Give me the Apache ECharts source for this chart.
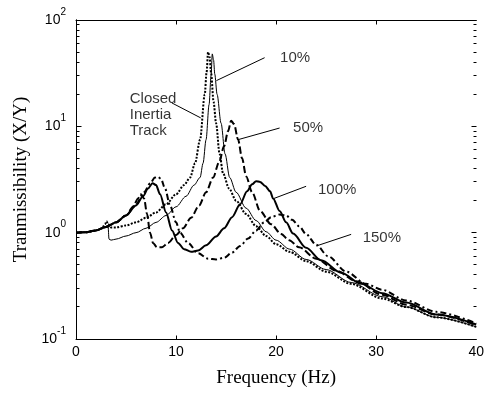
<!DOCTYPE html>
<html><head><meta charset="utf-8">
<script src="https://cdn.jsdelivr.net/npm/echarts@6/dist/echarts.min.js"></script>
<style>html,body{margin:0;padding:0;background:#fff;}#c{width:487px;height:393px;}</style>
</head><body><div id="c"></div>
<script>
// x tick labels and y decades
const xTicks = [0, 10, 20, 30, 40];
const xInnerTicks = [10, 20, 30];
const yDecades = [0.1, 1, 10, 100];
const yMinorTicks = [0.2,0.3,0.4,0.5,0.6,0.7,0.8,0.9,2,3,4,5,6,7,8,9,20,30,40,50,60,70,80,90];

// [frequency Hz, transmissibility]
const closedTrack = [[0,1.0],[1,1.01],[2,1.05],[2.6,1.1],[2.9,1.2],[3.05,1.28],[3.2,1.2],[3.5,1.12],[4,1.12],[5,1.17],[6,1.25],[7,1.38],[8,1.55],[9,1.85],[10,2.3],[10.8,2.8],[11.4,3.3],[11.9,4.5],[12.4,7.5],[12.87,20],[13.05,32],[13.2,50],[13.35,45],[13.5,32],[13.75,17],[14.0,10.7],[14.35,5.5],[14.7,3.6],[15.3,2.6],[16,2.0],[17,1.5],[18,1.15],[19,0.93],[20,0.78],[21.35,0.66],[23,0.54],[25,0.43],[27.5,0.33],[30.6,0.24],[33,0.2],[36,0.16],[40,0.13]];
const open10 = [[0,1.0],[1,1.01],[2,1.05],[2.8,1.12],[3.2,1.17],[3.3,0.87],[3.5,0.85],[4,0.87],[5,0.93],[6,1.0],[7,1.1],[8,1.25],[9,1.45],[10,1.75],[11,2.2],[11.8,2.8],[12.4,3.3],[12.7,4.5],[13.0,7.5],[13.3,16],[13.5,30],[13.62,48],[13.75,42],[13.87,31],[14.1,20],[14.5,10.7],[14.9,5.5],[15.36,3.3],[16,2.4],[17,1.7],[18,1.3],[19,1.02],[20,0.85],[21.35,0.7],[23,0.56],[25,0.45],[27.5,0.34],[30.6,0.25],[33,0.2],[36,0.16],[40,0.13]];
const open50 = [[0,1.0],[1,1.01],[2,1.05],[3,1.13],[4,1.25],[5,1.45],[5.7,1.75],[6.2,2.1],[6.5,2.3],[6.8,2.1],[7.1,1.5],[7.4,1.0],[7.7,0.8],[8.1,0.73],[8.6,0.73],[9.2,0.8],[10,0.95],[10.7,1.1],[11.5,1.38],[12.3,1.8],[13.0,2.4],[13.7,3.3],[14.3,4.6],[14.8,6.5],[15.2,9.0],[15.5,11.3],[15.8,10.5],[16.2,7.5],[16.6,5],[17.0,3.4],[17.6,2.4],[18.4,1.6],[19.5,1.2],[20.5,0.97],[21.3,0.85],[22.3,0.73],[24,0.57],[26,0.44],[28,0.35],[30.6,0.26],[33,0.21],[36,0.17],[40,0.135]];
const open100 = [[0,1.0],[1,1.01],[2,1.05],[3,1.13],[4,1.25],[5,1.45],[6,1.8],[6.7,2.2],[7.2,2.6],[7.65,2.92],[8.0,2.8],[8.4,2.3],[9.0,1.55],[9.6,1.05],[10.2,0.8],[10.8,0.7],[11.5,0.66],[12.2,0.68],[13,0.76],[14,0.92],[14.8,1.1],[15.6,1.4],[16.4,1.85],[17.1,2.45],[17.6,2.85],[18.0,3.05],[18.4,3.0],[18.9,2.75],[19.4,2.45],[19.7,2.1],[20.35,1.6],[21,1.25],[21.7,0.98],[23,0.72],[24.5,0.55],[26.5,0.42],[28.5,0.33],[30.6,0.27],[33,0.22],[36,0.17],[40,0.137]];
const open150 = [[0,1.0],[1,1.01],[2,1.05],[3,1.13],[4,1.25],[5,1.45],[6,1.85],[6.8,2.4],[7.4,2.9],[7.9,3.3],[8.2,3.35],[8.5,3.2],[8.9,2.6],[9.4,1.8],[10.0,1.25],[10.4,1.0],[11.2,0.8],[12.2,0.64],[13.2,0.57],[14.0,0.56],[14.8,0.58],[15.6,0.65],[16.4,0.75],[17.2,0.88],[18,1.05],[18.8,1.25],[19.5,1.4],[20.3,1.48],[21,1.45],[21.6,1.32],[22.3,1.15],[23,0.97],[24,0.77],[25.2,0.6],[27,0.43],[29,0.33],[30.6,0.29],[33,0.23],[36,0.18],[40,0.14]];

// annotation texts: [x, y, text] and pointer lines [[x1,y1],[x2,y2]]
const annoTexts = [[20.35,44,'10%'],[21.65,9.7,'50%'],[24.14,2.55,'100%'],[28.6,0.9,'150%'],[5.32,12.8,'Closed\nInertia\nTrack']];
const annoPointers = [[[18.85,44.2],[14.03,26.9]],[[20.35,9.64],[16.19,7.49]],[[23.0,2.73],[19.68,2.08]],[[27.5,0.964],[24.01,0.749]],[[9.58,16.6],[12.47,12.0]]];

const X_MIN = 0, X_MAX = 40, Y_MIN = 0.1, Y_MAX = 100;
const chart = echarts.init(document.getElementById('c'));

const baseY = {
  type: 'log', logBase: 10, min: Y_MIN, max: Y_MAX,
  axisLine: {show: true, lineStyle: {color: '#000', width: 1}},
  splitLine: {show: false}, axisTick: {show: false}
};
const baseX = {
  type: 'value', min: X_MIN, max: X_MAX, interval: 10,
  axisLine: {show: true, onZero: false, lineStyle: {color: '#000', width: 1}},
  splitLine: {show: false}, axisTick: {show: false}
};
function lineSeries(name, data, width, type) {
  return {name, type: 'line', data, showSymbol: false, symbol: 'none', smooth: 0.3, smoothMonotone: 'x',
    lineStyle: {color: '#000', width, type}, z: 3, animation: false};
}
function crisp(v) { return Math.round(v - 0.5) + 0.5; }
function tickLine(x1, y1, x2, y2) {
  return {type: 'line', shape: {x1, y1, x2, y2}, style: {stroke: '#000', lineWidth: 1}};
}
// y ticks on both left and right edges (inside)
const yTickData = yDecades.map(v => [X_MIN, v, 5]).concat(yMinorTicks.map(v => [X_MIN, v, 3]));
const xTickData = xInnerTicks.map(v => [v, Y_MIN, 4]);

chart.setOption({
  animation: false,
  backgroundColor: '#fff',
  grid: {left: 76, top: 20, right: 10, bottom: 53, containLabel: false},
  xAxis: [
    Object.assign({}, baseX, {position: 'bottom',
      name: 'Frequency (Hz)', nameLocation: 'middle', nameGap: 30,
      nameTextStyle: {fontFamily: 'Liberation Serif', fontSize: 19, color: '#000'},
      axisLabel: {show: true, margin: 6, fontFamily: 'Liberation Sans', fontSize: 14, color: '#000', customValues: xTicks}}),
    Object.assign({}, baseX, {position: 'top', axisLabel: {show: false}})
  ],
  yAxis: [
    Object.assign({}, baseY, {position: 'left',
      name: 'Tranmissibility (X/Y)', nameLocation: 'middle', nameGap: 41,
      nameTextStyle: {fontFamily: 'Liberation Serif', fontSize: 19, color: '#000'},
      axisLabel: {show: true, margin: 10, customValues: yDecades,
        formatter: function (v) { return '{b|10}{s|' + Math.round(Math.log10(v)) + '}'; },
        rich: {
          b: {fontFamily: 'Liberation Sans', fontSize: 14, color: '#000', lineHeight: 14, verticalAlign: 'middle'},
          s: {fontFamily: 'Liberation Sans', fontSize: 10, color: '#000', lineHeight: 10, padding: [0, 0, 16, 0], verticalAlign: 'middle'}
        }}}),
    Object.assign({}, baseY, {position: 'right', axisLabel: {show: false}})
  ],
  series: [
    lineSeries('Closed Inertia Track', closedTrack, 2, [2, 1.5]),
    lineSeries('10%', open10, 1, 'solid'),
    lineSeries('50%', open50, 2, [7, 3]),
    lineSeries('100%', open100, 2, 'solid'),
    lineSeries('150%', open150, 2, [6, 3, 2, 3]),
    {
      name: 'yTicks', type: 'custom', data: yTickData, clip: false, silent: true, z: 4,
      encode: {x: 0, y: 1},
      renderItem: function (params, api) {
        const v = api.value(1), len = api.value(2);
        const l = api.coord([X_MIN, v]), r = api.coord([X_MAX, v]);
        const y = crisp(l[1]);
        return {type: 'group', children: [
          tickLine(crisp(l[0]), y, crisp(l[0]) + len, y),
          tickLine(crisp(r[0]) - len, y, crisp(r[0]), y)
        ]};
      }
    },
    {
      name: 'xTicks', type: 'custom', data: xTickData, clip: false, silent: true, z: 4,
      encode: {x: 0, y: 1},
      renderItem: function (params, api) {
        const v = api.value(0), len = api.value(2);
        const b = api.coord([v, Y_MIN]), t = api.coord([v, Y_MAX]);
        const x = crisp(b[0]);
        return {type: 'group', children: [
          tickLine(x, crisp(b[1]), x, crisp(b[1]) - len),
          tickLine(x, crisp(t[1]), x, crisp(t[1]) + len)
        ]};
      }
    },
    {
      name: 'labels', type: 'scatter', data: annoTexts, symbolSize: 1,
      itemStyle: {color: 'rgba(0,0,0,0)'}, z: 5, animation: false, silent: true,
      label: {show: true, position: 'right', distance: 0, formatter: p => p.data[2],
        fontFamily: 'Liberation Sans', fontSize: 15, color: '#000', lineHeight: 16},
      markLine: {symbol: 'none', silent: true, animation: false,
        lineStyle: {color: '#000', width: 1, type: 'solid'}, label: {show: false},
        data: annoPointers.map(p => [{coord: p[0]}, {coord: p[1]}])}
    }
  ]
});
</script></body></html>
